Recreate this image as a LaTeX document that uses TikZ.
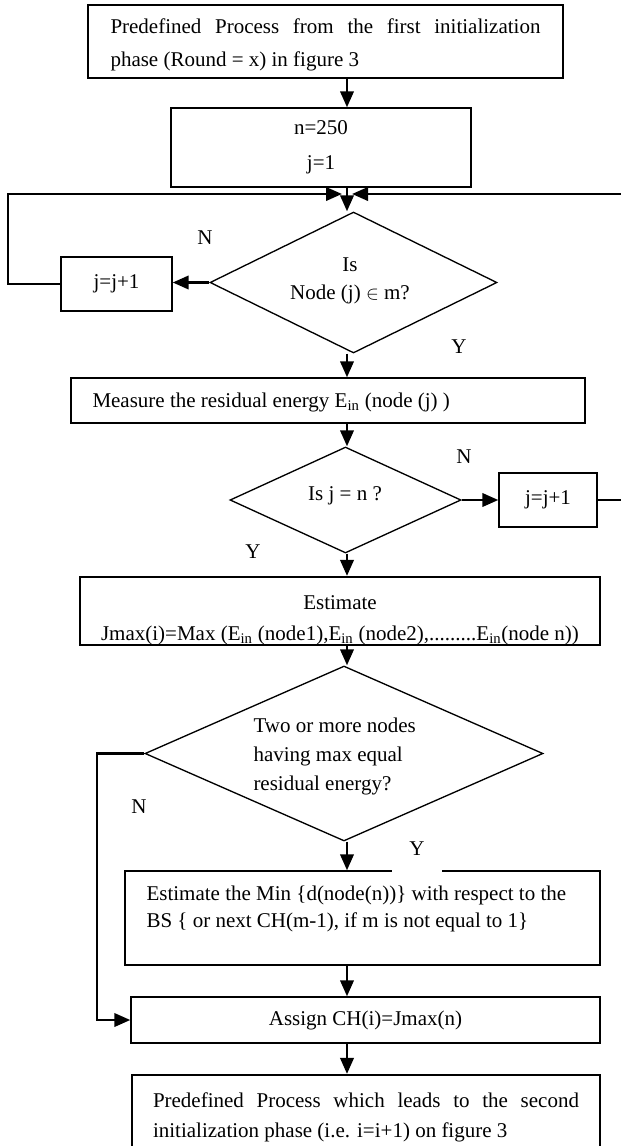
\documentclass[tikz,border=0pt]{standalone}
\usepackage{fontspec}
\setmainfont{Liberation Serif}
\usetikzlibrary{arrows.meta,shapes.geometric}

\tikzset{every picture/.style={line width=0.75pt}}
\tikzset{
  box/.style={draw, rectangle, inner sep=0pt, line width=1pt, font=\fontsize{15.75}{22.5}\selectfont},
  thickbox/.style={box, line width=1.6pt},
  decision/.style={draw, diamond, inner sep=0pt, line width=1pt},
  txt/.style={inner sep=0pt, font=\fontsize{15.75}{22.5}\selectfont},
  flow/.style={line width=2pt, -{Triangle[length=12pt,width=10pt]}},
  thinlink/.style={line width=1pt},
}

\begin{document}
\begin{tikzpicture}[x=0.75pt,y=0.75pt,yscale=-1]
\useasboundingbox (0,0) rectangle (621,1146);
\clip (0,0) rectangle (621,1146);

% main column and loop corners
\coordinate (col) at (347,0);
\coordinate (mergeL) at (342,194);
\coordinate (mergeR) at (352,194);
\coordinate (loopL) at (8,194);
\coordinate (loopR) at (640,194);
\coordinate (noX) at (97,0);

%Shape: Rectangle
\node[thickbox, minimum width=356.25pt, minimum height=54.75pt] (init) at (325.5,41.5) {};
% Text Node
\node[txt, text width=322.5pt, align=justify, font=\fontsize{15.75}{24.75}\selectfont] (inittxt) at (325.5,45) {Predefined Process from the first initialization\linebreak phase (Round = x) in figure 3};
%Shape: Rectangle
\node[box, minimum width=225pt, minimum height=59.25pt, align=flush center, font=\fontsize{15.75}{26.25}\selectfont] (setn) at (321,147.5) {n=250\\j=1};

%Shape: Diamond
\node[decision, minimum width=215.25pt, minimum height=105.75pt] (isin) at (353.5,282.5) {};
% Text Node
\node[txt, align=flush center, font=\fontsize{15.75}{21}\selectfont] (isintxt) at (350,281) {Is\\Node (j) $\in$ m?};
%Shape: Rectangle
\node[box, minimum width=83.25pt, minimum height=40.5pt] (incl) at (116.5,284) {j=j+1};

%Shape: Rectangle
\node[box, minimum width=385.5pt, minimum height=33.75pt] (meas) at (328,400.5) {};
% Text Node
\node[txt, anchor=west] (meastxt) at (92,402) {Measure the residual energy E\textsubscript{in} (node (j) )};

%Shape: Diamond
\node[decision, minimum width=173.25pt, minimum height=79.5pt] (isn) at (345.5,500) {};
% Text Node
\node[txt] (isntxt) at (345,496) {Is j = n ?};
%Shape: Rectangle
\node[box, minimum width=73.5pt, minimum height=40.5pt] (incr) at (548,500) {j=j+1};

%Shape: Rectangle
\node[thickbox, minimum width=390pt, minimum height=51pt] (est) at (340,611) {};
\begin{scope}
\clip (est.north west) rectangle ([yshift=6pt]est.south east);
% Text Node
\node[txt, anchor=base] (esta) at (340,609) {Estimate};
% Text Node
\node[txt, anchor=base] (estb) at (340,640) {Jmax(i)=Max (E\textsubscript{in} (node1),E\textsubscript{in} (node2),.........E\textsubscript{in}(node n))};
\end{scope}

%Shape: Diamond
\node[decision, minimum width=298.5pt, minimum height=131.25pt] (twomax) at (344,753.5) {};
% Text Node
\node[txt, anchor=west, align=flush left, font=\fontsize{15.75}{21.75}\selectfont] (twomaxtxt) at (253,756) {Two or more nodes\\having max equal\\residual energy?};

%Shape: Rectangle
\node[box, minimum width=356.25pt, minimum height=70.5pt] (minbs) at (362.5,918) {};
% Text Node
\node[txt, anchor=west, align=flush left, font=\fontsize{15.75}{20.25}\selectfont] (minbstxt) at (146,908.5) {Estimate the Min \{d(node(n))\} with respect to the\\BS \{ or next CH(m-1), if m is not equal to 1\}};
%Shape: Rectangle
\node[box, minimum width=351.75pt, minimum height=34.5pt] (assign) at (365.5,1020) {Assign CH(i)=Jmax(n)};
%Shape: Rectangle
\node[thickbox, minimum width=351pt, minimum height=63.75pt, text width=319.5pt, align=justify] (next) at (366,1117.5) {Predefined Process which leads to the second\linebreak initialization phase (i.e. i=i+1) on figure 3};

% Text Node
\node[txt] (n1) at (205,238) {N};
% Text Node
\node[txt] (y1) at (459,347) {Y};
% Text Node
\node[txt] (n2) at (464,457) {N};
% Text Node
\node[txt] (y2) at (253,552) {Y};
% Text Node
\node[txt] (n3) at (139,807) {N};
% Text Node
\node[txt, fill=white, minimum width=37.5pt, minimum height=34.5pt] (y3) at (417,849) {Y};

%Straight Lines
\draw[flow] (init.south -| col) -- (setn.north -| col);
\draw[flow] (setn.south -| col) -- (col |- isin.north);
\draw[flow] (isin.west) -- (isin.west -| incl.east);
\draw[flow] (incl.west) -| (loopL) -- (mergeL);
\draw[flow] (isin.south -| col) -- (meas.north -| col);
\draw[flow] (meas.south -| col) -- (col |- isn.north);
\draw[flow] (isn.east) -- (incr.west);
\draw[thinlink] (incr.east) -- (incr.east -| loopR);
\draw[flow] (loopR) -- (mergeR);
\draw[flow] (isn.south -| col) -- (est.north -| col);
\draw[flow] (est.south -| col) -- (col |- twomax.north);
\draw[flow] (twomax.south -| col) -- (minbs.north -| col);
\draw[flow] (twomax.west) -- (twomax.west -| noX) |- (assign.west);
\draw[flow] (minbs.south -| col) -- (assign.north -| col);
\draw[flow] (assign.south -| col) -- (next.north -| col);

\end{tikzpicture}
\end{document}
